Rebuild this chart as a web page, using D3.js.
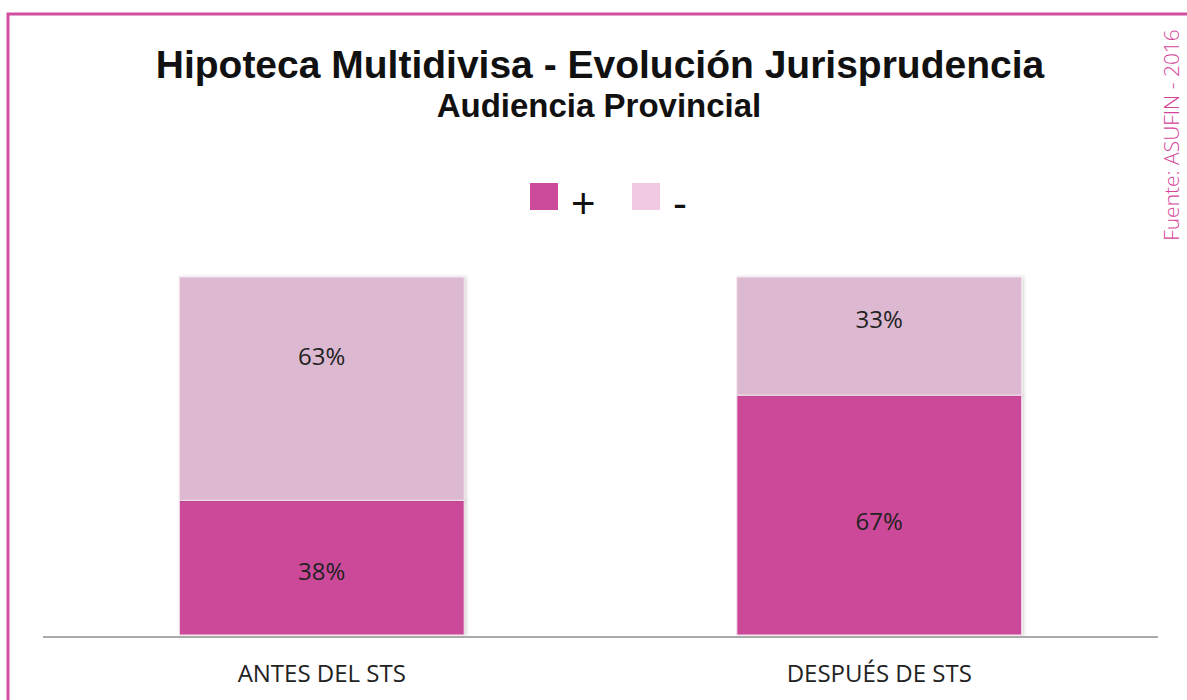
<!DOCTYPE html>
<html><head><meta charset="utf-8">
<script src="https://cdn.jsdelivr.net/npm/d3@7"></script>
<style>body{margin:0;background:#fff;}svg{display:block;}</style>
</head><body>
<svg id="c" width="1187" height="700"></svg>
<script>
const categories = ["ANTES DEL STS", "DESPUÉS DE STS"];
const seriesNames = ["+", "-"];
const plusValues = [38, 67];
const minusValues = [63, 33];
const colors = ["#CC4A9A", "#DDB9D1"];
const legendColors = ["#CC4A9A", "#F1C9E2"];
const labelPos = [0.53, 0.36]; // fraction from top of segment where label sits

const svg = d3.select("#c");
// frame
svg.append("path").attr("d","M8,710 L8,14 L1195,14").attr("fill","none").attr("stroke","#D14FA0").attr("stroke-width",3);

svg.append("text").attr("x",600).attr("y",78).attr("text-anchor","middle")
  .attr("font-family","Liberation Sans, Arial, sans-serif").attr("font-weight","bold").attr("font-size",39).attr("fill","#111")
  .text("Hipoteca Multidivisa - Evolución Jurisprudencia");
svg.append("text").attr("x",599).attr("y",117).attr("text-anchor","middle")
  .attr("font-family","Liberation Sans, Arial, sans-serif").attr("font-weight","bold").attr("font-size",33).attr("fill","#111")
  .text("Audiencia Provincial");

svg.append("text").attr("transform","translate(1179,135) rotate(-90)").attr("text-anchor","middle")
  .attr("font-family","Open Sans, sans-serif").attr("font-weight","300").attr("font-size",21).attr("fill","#D6449A")
  .text("Fuente: ASUFIN - 2016");

// legend
const leg = [{x:530,tx:571},{x:632,tx:673}];
seriesNames.forEach((s,i)=>{
  svg.append("rect").attr("x",leg[i].x).attr("y",183).attr("width",28).attr("height",27).attr("fill",legendColors[i]);
  svg.append("text").attr("x",leg[i].tx).attr("y",218).attr("font-family","Liberation Sans, Arial, sans-serif")
    .attr("font-size",42).attr("fill","#111").text(s);
});

const x = d3.scaleBand().domain(categories).range([43,1158]).paddingInner(0.489).paddingOuter(0.2445);
const y = d3.scaleLinear().domain([0,1]).range([635,277]);

const data = categories.map((c,i)=>({cat:c,"+":plusValues[i],"-":minusValues[i]}));
const stack = d3.stack().keys(seriesNames).offset(d3.stackOffsetExpand);
const layers = stack(data);

const defs = svg.append("defs");
const f = defs.append("filter").attr("id","sh").attr("x","-5%").attr("y","-5%").attr("width","115%").attr("height","115%");
f.append("feDropShadow").attr("dx",2).attr("dy",0).attr("stdDeviation",1.5).attr("flood-color","#000").attr("flood-opacity",0.15);

layers.forEach((layer,li)=>{
  svg.append("g").selectAll("rect").data(layer).join("rect")
    .attr("x",d=>x(d.data.cat)).attr("width",x.bandwidth())
    .attr("y",d=>y(d[1])).attr("height",d=>y(d[0])-y(d[1]))
    .attr("fill",colors[li]).attr("stroke","#f4e4ee").attr("stroke-width",1).attr("filter","url(#sh)");
  svg.append("g").selectAll("text").data(layer).join("text")
    .attr("x",d=>x(d.data.cat)+x.bandwidth()/2)
    .attr("y",d=>y(d[1])+(y(d[0])-y(d[1]))*labelPos[li]+8)
    .attr("text-anchor","middle").attr("font-family","Open Sans, sans-serif").attr("font-size",24).attr("fill","#222")
    .text(d=>d.data[layer.key]+"%");
});

// axis
const ax = svg.append("g").attr("transform","translate(0,637)").call(d3.axisBottom(x).tickSize(0).tickPadding(28));
ax.select(".domain").attr("stroke","#aaa").attr("stroke-width",2).attr("d","M43,0H1158");
ax.selectAll("text").attr("font-family","Open Sans, sans-serif").attr("font-size",24).attr("fill","#222");
</script>
</body></html>
